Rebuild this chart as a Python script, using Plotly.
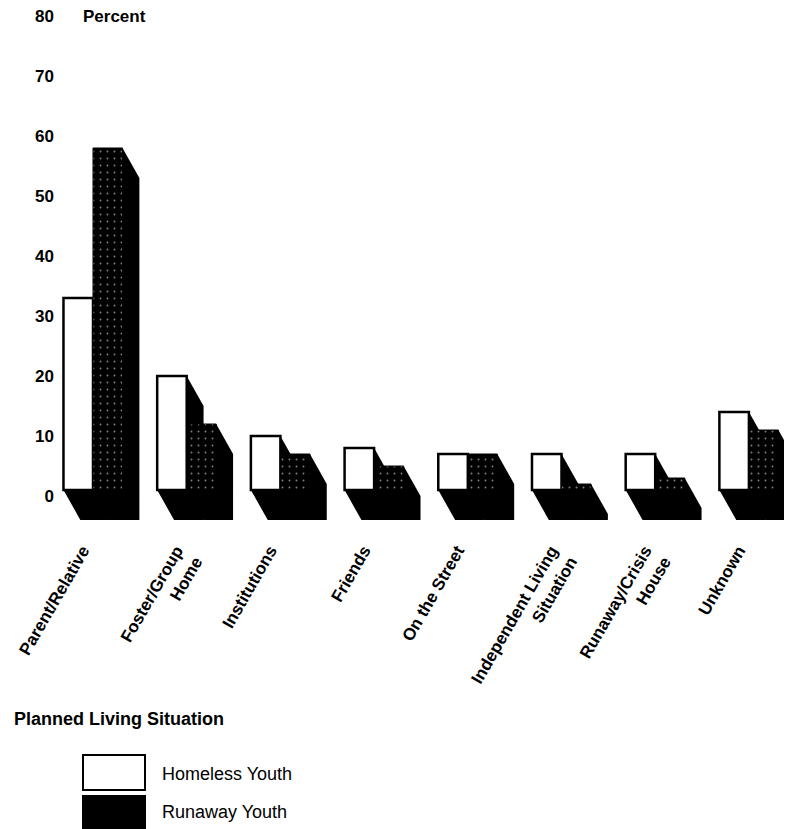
import plotly.graph_objects as go

categories = ["Parent/Relative", "Foster/Group<br>Home", "Institutions", "Friends",
              "On the Street", "Independent Living<br>Situation", "Runaway/Crisis<br>House", "Unknown"]
homeless = [32, 19, 9, 7, 6, 6, 6, 13]
runaway = [57, 11, 6, 4, 6, 1, 2, 10]
y_ticks = [0, 10, 20, 30, 40, 50, 60, 70, 80]

OFF = 8                      # page body margin
W, H = 792 - OFF, 829 - OFF
L, R, T = 55 - OFF, 0, 0
PLOT_BOTTOM = 526 - OFF
B = H - PLOT_BOTTOM
PW, PH = W - L - R, H - T - B

BW = 0.315            # bar width (category units)
DX, DY = 0.18, 5.0    # extrusion offset (x units, y units)
XR = [(55 - 93) / 93.7, (792 - 93) / 93.7]
YR = [-6, (490 - OFF) / 6.0]
LABEL_SHIFT = -0.11

xs = list(range(len(categories)))

def px2paper(px, py):
    fx, fy = px - OFF, py - OFF
    return (fx - L) / PW, (H - B - fy) / PH

fig = go.Figure()
fig.add_trace(go.Bar(x=xs, y=homeless, width=BW, offset=-BW, name="Homeless Youth",
                     marker=dict(color="white", line=dict(color="black", width=2.5))))
fig.add_trace(go.Bar(x=xs, y=runaway, width=BW, offset=0, name="Runaway Youth",
                     marker=dict(color="black", line=dict(color="black", width=1),
                                 pattern=dict(shape=".", fgcolor="white", bgcolor="black",
                                              size=7, solidity=0.06))))

shapes = []
for i in xs:
    for x0, h in ((i - BW, homeless[i]), (i, runaway[i])):
        x1 = x0 + BW
        path = (f"M {x0},{h} L {x1},{h} L {x1+DX},{h-DY} L {x1+DX},{-DY} "
                f"L {x0+DX},{-DY} L {x0},0 Z")
        shapes.append(dict(type="path", path=path, xref="x", yref="y",
                           fillcolor="black", line=dict(width=0), layer="below"))

# legend boxes
for (py0, py1, fill) in ((755, 790, "white"), (796, 828, "black")):
    x0p, y0p = px2paper(83, py1)
    x1p, y1p = px2paper(145, py0)
    shapes.append(dict(type="rect", xref="paper", yref="paper", x0=x0p, x1=x1p, y0=y0p, y1=y1p,
                       fillcolor=fill, line=dict(color="black", width=2)))

ann = []
def add_text(text, px, py, size, bold=True):
    xp, yp = px2paper(px, py)
    ann.append(dict(text=text, x=xp, y=yp, xref="paper", yref="paper", showarrow=False,
                    xanchor="left", yanchor="middle",
                    font=dict(family="Liberation Sans", size=size, color="black",
                              weight="bold" if bold else "normal")))

add_text("Percent", 81, 17, 17)
add_text("Planned Living Situation", 12, 719, 18)
add_text("Homeless Youth", 160, 774, 18, bold=False)
add_text("Runaway Youth", 160, 812, 18, bold=False)

fig.update_layout(
    width=W, height=H,
    margin=dict(l=L, r=R, t=T, b=B),
    plot_bgcolor="white", paper_bgcolor="white",
    showlegend=False,
    shapes=shapes, annotations=ann,
    xaxis=dict(range=XR, tickvals=[i + LABEL_SHIFT for i in xs], ticktext=categories, tickangle=-60,
               showgrid=False, zeroline=False, showline=False, automargin=False,
               ticks="outside", ticklen=7, tickcolor="rgba(0,0,0,0)",
               tickfont=dict(family="Liberation Sans", size=17, color="black", weight="bold")),
    yaxis=dict(range=YR, tickvals=y_ticks, showgrid=False, zeroline=False, showline=False,
               automargin=False, ticks="", ticklabeloverflow="allow", ticklabelshift=6,
               tickfont=dict(family="Liberation Sans", size=17, color="black", weight="bold")),
)

fig.write_html("out.html")
